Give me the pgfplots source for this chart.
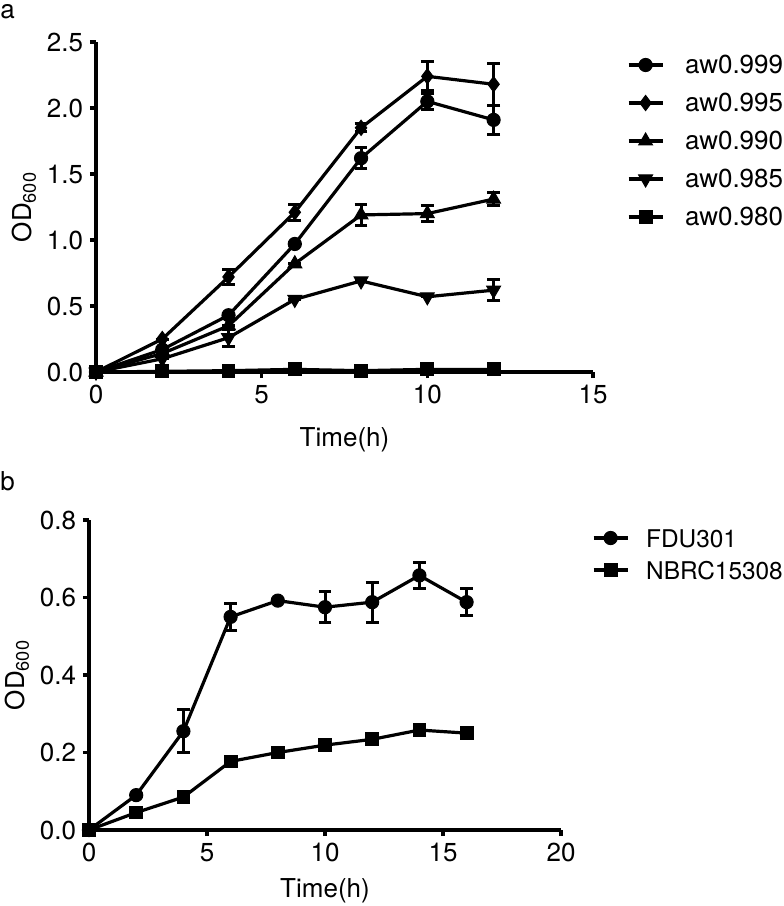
\documentclass[border=0pt]{standalone}
\usepackage{fontspec}
\setmainfont{TeX Gyre Heros}
\usepackage{pgfplots}
\pgfplotsset{compat=1.18}
\usepackage{pgfplotstable}

\pgfdeclareplotmark{dtri*}{%
  \pgfpathmoveto{\pgfqpoint{0pt}{-\pgfplotmarksize}}%
  \pgfpathlineto{\pgfqpointpolar{30}{\pgfplotmarksize}}%
  \pgfpathlineto{\pgfqpointpolar{150}{\pgfplotmarksize}}%
  \pgfpathclose
  \pgfusepathqfillstroke}

\pgfplotstableread{
x y e
0 0 0
2 0.17 0
4 0.43 0
6 0.97 0
8 1.62 0.08
10 2.05 0.06
12 1.91 0.11
}\awA
\pgfplotstableread{
x y e
0 0 0
2 0.25 0
4 0.72 0.06
6 1.21 0.06
8 1.85 0.03
10 2.24 0.11
12 2.18 0.16
}\awB
\pgfplotstableread{
x y e
0 0 0
2 0.14 0
4 0.35 0
6 0.82 0
8 1.19 0.08
10 1.20 0.06
12 1.31 0.05
}\awC
\pgfplotstableread{
x y e
0 0 0
2 0.10 0
4 0.26 0.065
6 0.55 0
8 0.69 0
10 0.57 0
12 0.62 0.08
}\awD
\pgfplotstableread{
x y e
0 0 0
2 0.005 0
4 0.01 0
6 0.02 0
8 0.01 0
10 0.02 0
12 0.02 0
}\awE
\pgfplotstableread{
x y e
0 0 0
2 0.09 0
4 0.255 0.055
6 0.55 0.035
8 0.592 0
10 0.575 0.04
12 0.588 0.052
14 0.657 0.033
16 0.588 0.034
}\FDU
\pgfplotstableread{
x y e
0 0 0
2 0.045 0
4 0.085 0
6 0.177 0
8 0.200 0
10 0.219 0
12 0.234 0
14 0.258 0
16 0.250 0
}\NBRC

\pgfplotsset{
  myaxis/.style={
    scale only axis,
    axis lines=left,
    axis line style={line width=1.8bp, -},
    tick style={line width=1.8bp, black},
    tick align=outside,
    major tick length=3bp,
    clip=false,
    font=\fontsize{13bp}{15bp}\selectfont,
    /pgf/number format/assume math mode=true,
    xlabel={Time(h)},
    ylabel={OD\textsubscript{600}},
    legend style={draw=none, fill=none, inner sep=0pt, outer sep=0pt, anchor=north west,
      nodes={inner sep=0pt, text height=9bp, text depth=0bp}},
    legend cell align=left,
    legend image code/.code={
      \path[draw=none, fill=none] (0bp,-6bp) rectangle (17bp,6bp);
      \draw[mark repeat=2, mark phase=2, line width=1.6bp] plot coordinates {(0bp,0bp) (8.5bp,0bp) (17bp,0bp)};
    },
    error bars/y dir=both,
    error bars/y explicit,
    error bars/error bar style={line width=1.5bp, black},
    error bars/error mark options={line width=1.5bp, black, mark size=3.2bp, rotate=90},
  },
  ser/.style={black, line width=1.6bp, mark options={solid, fill=black, line width=0.5bp}},
}

\begin{document}
\begin{tikzpicture}
\useasboundingbox (0,0) rectangle (392bp,-453bp);
\node[font=\fontsize{13bp}{15bp}\selectfont, anchor=base west, inner sep=0pt] at (0bp,-9bp) {a};
\node[font=\fontsize{13bp}{15bp}\selectfont, anchor=base west, inner sep=0pt] at (0bp,-245bp) {b};

\begin{axis}[myaxis,
  at={(48bp,-186bp)}, anchor=south west,
  width=248.5bp, height=165bp,
  xmin=0, xmax=15, ymin=0, ymax=2.5,
  xtick={0,5,10,15}, ytick={0,0.5,1,1.5,2,2.5},
  yticklabel style={/pgf/number format/.cd, fixed, fixed zerofill, precision=1},
  xlabel style={at={(axis description cs:0.5,0)}, anchor=center, yshift=-34bp, inner sep=0pt},
  ylabel style={at={(axis description cs:-0.145,0.5)}, anchor=center, inner sep=0pt},
  legend style={at={(1.0684,0.9667)}, row sep=7bp, column sep=10.5bp},
]
\addplot[ser, mark=*, mark size=3.3bp] table[x=x, y=y, y error=e] {\awA};
\addlegendentry{aw0.999}
\addplot[ser, mark=diamond*, mark size=3.8bp] table[x=x, y=y, y error=e] {\awB};
\addlegendentry{aw0.995}
\addplot[ser, mark=triangle*, mark size=4bp] table[x=x, y=y, y error=e] {\awC};
\addlegendentry{aw0.990}
\addplot[ser, mark=dtri*, mark size=4bp] table[x=x, y=y, y error=e] {\awD};
\addlegendentry{aw0.985}
\addplot[ser, mark=square*, mark size=3.2bp] table[x=x, y=y, y error=e] {\awE};
\addlegendentry{aw0.980}
\end{axis}

\begin{axis}[myaxis,
  at={(44.5bp,-415bp)}, anchor=south west,
  width=236bp, height=155bp,
  xmin=0, xmax=20, ymin=0, ymax=0.8,
  xtick={0,5,10,15,20}, ytick={0,0.2,0.4,0.6,0.8},
  yticklabel style={/pgf/number format/.cd, fixed, fixed zerofill, precision=1},
  xlabel style={at={(axis description cs:0.5,0)}, anchor=center, yshift=-30.5bp, inner sep=0pt},
  ylabel style={at={(axis description cs:-0.1525,0.5)}, anchor=center, inner sep=0pt},
  legend style={at={(1.0657,0.9806)}, row sep=4bp, column sep=8.5bp,
    font=\fontsize{12.2bp}{15bp}\selectfont},
]
\addplot[ser, mark=*, mark size=3.3bp] table[x=x, y=y, y error=e] {\FDU};
\addlegendentry{FDU301}
\addplot[ser, mark=square*, mark size=3.2bp] table[x=x, y=y, y error=e] {\NBRC};
\addlegendentry{NBRC15308}
\end{axis}
\end{tikzpicture}
\end{document}
